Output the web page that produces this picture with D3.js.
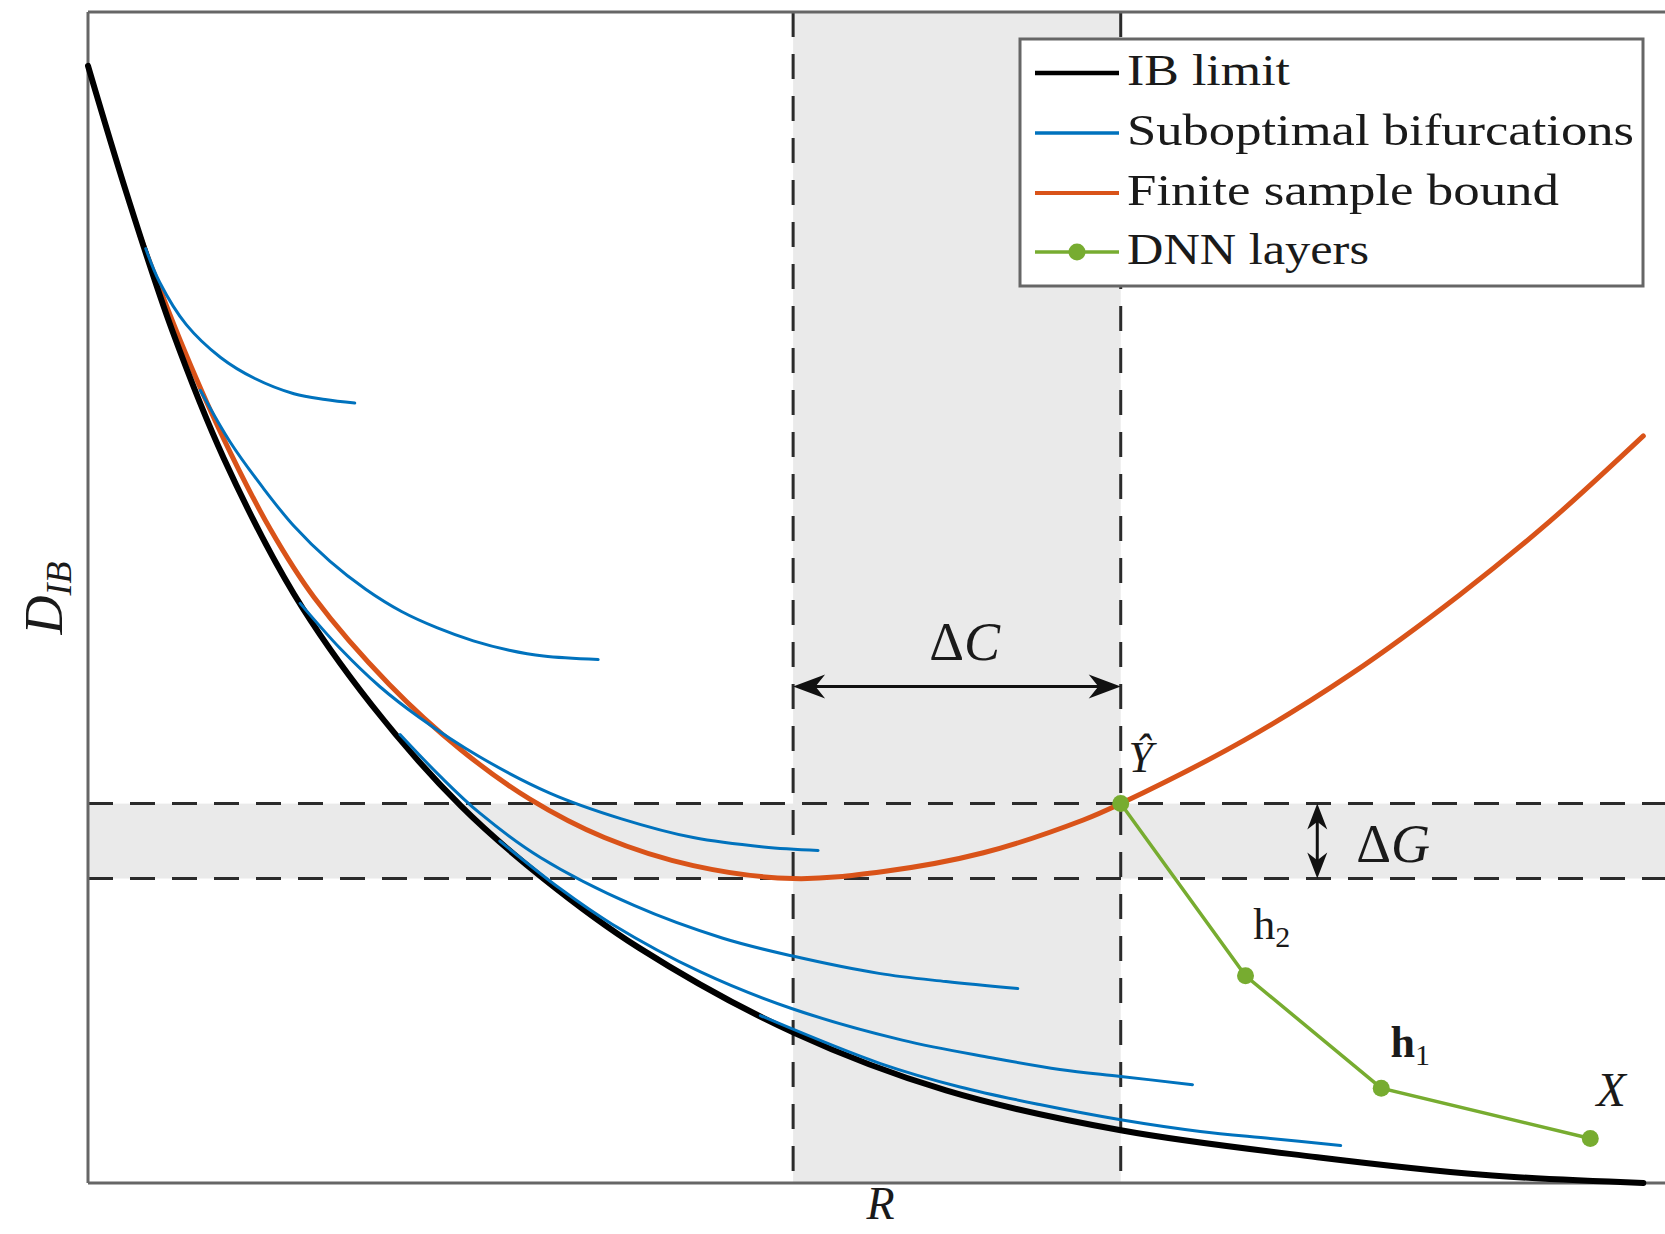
<!DOCTYPE html>
<html><head><meta charset="utf-8">
<script src="https://cdn.jsdelivr.net/npm/d3@7"></script>
<style>
html,body{margin:0;padding:0;background:#fff;} svg{display:block;}
.tx{font-family:"Liberation Serif","DejaVu Serif","Noto Serif","Times New Roman",Times,serif;}
</style>
</head><body><svg id="chart" width="1665" height="1234"></svg>
<script>
// ---------------- data ----------------
const ibR = [0.00,0.25,0.54,0.87,1.32,1.82,2.39,2.92,3.53,4.53,5.50,6.62,7.88,8.94,9.97];
const ibD = [9.54,8.44,7.28,6.19,5.03,4.08,3.22,2.60,2.01,1.28,0.79,0.45,0.22,0.07,0.00];

const boundR = [0.33,0.59,0.85,1.17,1.45,1.93,2.39,2.83,3.31,3.88,4.52,5.10,5.74,6.38,6.62,7.41,8.10,8.79,9.37,9.97];
const boundD = [8.10,7.20,6.41,5.58,5.00,4.26,3.70,3.28,2.95,2.71,2.60,2.66,2.82,3.10,3.24,3.78,4.35,5.02,5.65,6.38];

const sub1R = [0.37,0.46,0.63,0.85,1.07,1.32,1.52,1.71];
const sub1D = [7.98,7.69,7.33,7.05,6.87,6.74,6.69,6.66];
const sub2R = [0.72,0.91,1.12,1.32,1.55,1.78,2.01,2.24,2.47,2.70,2.92,3.27];
const sub2D = [6.77,6.33,5.94,5.61,5.31,5.07,4.88,4.74,4.63,4.55,4.50,4.47];
const sub3R = [1.36,1.62,1.87,2.12,2.51,2.96,3.42,3.88,4.33,4.68];
const sub3D = [4.95,4.56,4.24,3.98,3.64,3.33,3.11,2.95,2.87,2.84];
const sub4R = [2.00,2.26,2.51,2.90,3.50,4.07,4.51,5.07,5.50,5.96];
const sub4D = [3.83,3.47,3.16,2.78,2.37,2.09,1.94,1.79,1.72,1.66];
const sub5R = [2.64,3.03,3.36,3.93,4.51,5.22,5.79,6.23,6.62,7.08];
const sub5D = [2.92,2.51,2.21,1.80,1.49,1.22,1.07,0.97,0.91,0.84];
const sub6R = [4.31,5.08,5.59,6.10,6.62,7.13,7.58,8.03];
const sub6D = [1.43,1.02,0.82,0.67,0.54,0.44,0.38,0.32];

const dnnR = [6.62,7.42,8.29,9.63];
const dnnD = [3.24,1.77,0.81,0.38];

const deltaCR = [4.52, 6.62];   // vertical dashed lines (R)
const deltaGD = [2.60, 3.24];   // horizontal dashed lines (D_IB)

const legendLabels = ["IB limit","Suboptimal bifurcations","Finite sample bound","DNN layers"];
const legendColors = ["#000000","#0072BD","#D95319","#77AC30"];

// ---------------- layout ----------------
const W = 1665, H = 1234;
const svg = d3.select("#chart");
const x = d3.scaleLinear().domain([0,10]).range([88,1648]);
const y = d3.scaleLinear().domain([0,10]).range([1183,12]);
const xMax = x.invert(W);

const zip = (a,b) => a.map((v,i)=>[v,b[i]]);
const line = d3.line().x(d=>x(d[0])).y(d=>y(d[1])).curve(d3.curveCatmullRom.alpha(0.5));

// grey bands
svg.append("rect").attr("x",x(deltaCR[0])).attr("y",y(10))
  .attr("width",x(deltaCR[1])-x(deltaCR[0])).attr("height",y(0)-y(10)).attr("fill","#eaeaea");
svg.append("rect").attr("x",x(0)).attr("y",y(deltaGD[1]))
  .attr("width",W-x(0)).attr("height",y(deltaGD[0])-y(deltaGD[1])).attr("fill","#eaeaea");

// dashed lines
const dash = "25,17";
deltaCR.forEach(r=>{
  svg.append("line").attr("x1",x(r)).attr("x2",x(r)).attr("y1",y(10)).attr("y2",y(0))
    .attr("stroke","#2b2b2b").attr("stroke-width",3).attr("stroke-dasharray",dash);
});
deltaGD.forEach(d=>{
  svg.append("line").attr("x1",x(0)).attr("x2",W).attr("y1",y(d)).attr("y2",y(d))
    .attr("stroke","#2b2b2b").attr("stroke-width",3).attr("stroke-dasharray",dash);
});

// frame (no ticks)
const frame = svg.append("g").attr("stroke","#666").attr("stroke-width",3).attr("fill","none");
frame.append("line").attr("x1",x(0)).attr("x2",x(0)).attr("y1",y(10)).attr("y2",y(0));
frame.append("line").attr("x1",x(0)).attr("x2",x(xMax)).attr("y1",y(10)).attr("y2",y(10));
frame.append("line").attr("x1",x(0)).attr("x2",x(xMax)).attr("y1",y(0)).attr("y2",y(0));

// curves
const subs = [[sub1R,sub1D],[sub2R,sub2D],[sub3R,sub3D],[sub4R,sub4D],[sub5R,sub5D],[sub6R,sub6D]];
svg.append("path").attr("d",line(zip(boundR,boundD))).attr("fill","none")
  .attr("stroke","#D95319").attr("stroke-width",5).attr("stroke-linecap","round");
svg.append("path").attr("d",line(zip(ibR,ibD))).attr("fill","none")
  .attr("stroke","#000").attr("stroke-width",6).attr("stroke-linecap","round");
subs.forEach(s=>{
  svg.append("path").attr("d",line(zip(s[0],s[1]))).attr("fill","none")
    .attr("stroke","#0072BD").attr("stroke-width",3).attr("stroke-linecap","round");
});

// DNN layers
const dnn = zip(dnnR,dnnD);
svg.append("path").attr("d",d3.line().x(d=>x(d[0])).y(d=>y(d[1]))(dnn))
  .attr("fill","none").attr("stroke","#77AC30").attr("stroke-width",3.5);
svg.selectAll("circle.dnn").data(dnn).enter().append("circle").attr("class","dnn")
  .attr("cx",d=>x(d[0])).attr("cy",d=>y(d[1])).attr("r",8.5).attr("fill","#77AC30");

// arrows
function head(tx,ty,dx,dy,len,hw){
  const px=-dy, py=dx;
  const bx=tx-dx*len, by=ty-dy*len;
  const nx=tx-dx*len*0.7, ny=ty-dy*len*0.7;
  return `M${tx},${ty}L${bx+px*hw},${by+py*hw}L${nx},${ny}L${bx-px*hw},${by-py*hw}Z`;
}
const aY = y(4.24), aX1 = x(deltaCR[0]), aX2 = x(deltaCR[1]);
svg.append("line").attr("x1",aX1+10).attr("x2",aX2-10).attr("y1",aY).attr("y2",aY)
  .attr("stroke","#111").attr("stroke-width",3);
svg.append("path").attr("d",head(aX1,aY,-1,0,32,12)).attr("fill","#111");
svg.append("path").attr("d",head(aX2,aY,1,0,32,12)).attr("fill","#111");

const gX = x(7.88), gY1 = y(deltaGD[1]), gY2 = y(deltaGD[0]);
svg.append("line").attr("x1",gX).attr("x2",gX).attr("y1",gY1+10).attr("y2",gY2-10)
  .attr("stroke","#111").attr("stroke-width",3);
svg.append("path").attr("d",head(gX,gY1,0,-1,26,10)).attr("fill","#111");
svg.append("path").attr("d",head(gX,gY2,0,1,26,10)).attr("fill","#111");

// text labels
function label(px,py,parts,size,anchor){
  const t = svg.append("text").attr("class","tx").attr("x",px).attr("y",py)
    .attr("font-size",size).attr("fill","#1a1a1a").attr("text-anchor",anchor||"start");
  parts.forEach(p=>{
    const ts = t.append("tspan").text(p.t);
    if(p.i) ts.attr("font-style","italic");
    if(p.b) ts.attr("font-weight","bold");
    if(p.s) ts.attr("font-size",p.s);
    if(p.dy) ts.attr("dy",p.dy);
  });
  return t;
}
label(x(5.62), y(4.47), [{t:"Δ"},{t:"C",i:1}], 54, "middle");
label(x(8.13), y(2.74), [{t:"Δ"},{t:"G",i:1}], 54);
label(x(6.67), y(3.51), [{t:"Ŷ",i:1}], 44);
label(x(7.47), y(2.08), [{t:"h"},{t:"2",s:30,dy:8}], 44);
label(x(8.35), y(1.08), [{t:"h",b:1},{t:"1",s:30,dy:8}], 44);
label(x(9.67), y(0.66), [{t:"X",i:1}], 48);
label(x(5.08), 1219, [{t:"R",i:1}], 46, "middle");

// y label
const yl = svg.append("text").attr("class","tx").attr("transform",`translate(62,598) rotate(-90)`)
  .attr("font-size",54).attr("fill","#1a1a1a").attr("text-anchor","middle");
yl.append("tspan").text("D").attr("font-style","italic");
yl.append("tspan").text("IB").attr("font-style","italic").attr("font-size",36).attr("dy",9);

// legend
const lg = svg.append("g");
lg.append("rect").attr("x",1020).attr("y",39).attr("width",623).attr("height",247)
  .attr("fill","#fff").attr("stroke","#666").attr("stroke-width",3);
const rowY = [73,133,193,252];
const textW = [163,507,432,242];
legendLabels.forEach((lab,i)=>{
  lg.append("line").attr("x1",1035).attr("x2",1119).attr("y1",rowY[i]).attr("y2",rowY[i])
    .attr("stroke",legendColors[i]).attr("stroke-width",i===0?4.5:(i===2?4:3.5));
  if(i===3) lg.append("circle").attr("cx",1077).attr("cy",rowY[i]).attr("r",8.5).attr("fill",legendColors[i]);
  lg.append("text").attr("class","tx").attr("x",1127).attr("y",rowY[i]+12)
    .attr("font-size",44).attr("fill","#1a1a1a")
    .attr("textLength",textW[i]).attr("lengthAdjust","spacingAndGlyphs").text(lab);
});
</script></body></html>
